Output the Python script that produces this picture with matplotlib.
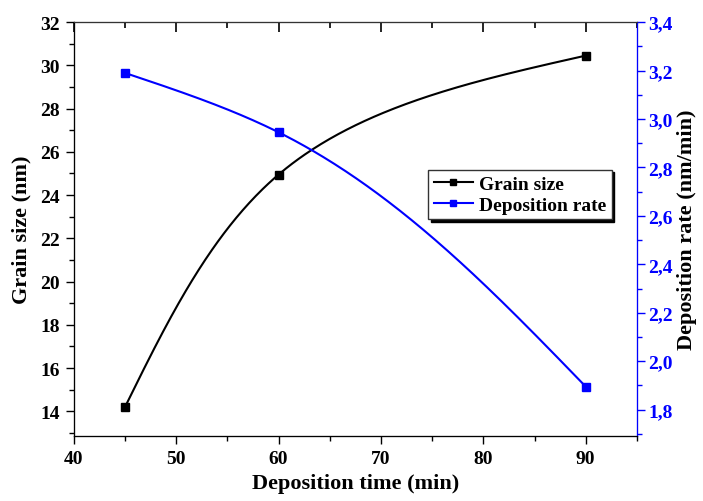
import numpy as np
import matplotlib.pyplot as plt
from matplotlib.ticker import MultipleLocator, FuncFormatter

time_min = [45, 60, 90]
grain_size = [14.2, 24.95, 30.45]
dep_rate = [3.19, 2.945, 1.895]

XLIM = (40, 95)
YLIM_L = (12.85, 32)
YLIM_R = (1.69, 3.4)


def natural_coeffs(t, y):
    h = np.diff(t)
    k = len(t)
    A = np.zeros((k, k))
    b = np.zeros(k)
    A[0, 0] = A[-1, -1] = 1
    for i in range(1, k - 1):
        A[i, i - 1] = h[i - 1]
        A[i, i] = 2 * (h[i - 1] + h[i])
        A[i, i + 1] = h[i]
        b[i] = 6 * ((y[i + 1] - y[i]) / h[i] - (y[i] - y[i - 1]) / h[i - 1])
    return np.linalg.solve(A, b)


def eval_spline(t, y, M, ts):
    idx = np.clip(np.searchsorted(t, ts) - 1, 0, len(t) - 2)
    t0, t1 = t[idx], t[idx + 1]
    hh = t1 - t0
    return (M[idx] * (t1 - ts) ** 3 / (6 * hh) + M[idx + 1] * (ts - t0) ** 3 / (6 * hh)
            + (y[idx] / hh - M[idx] * hh / 6) * (t1 - ts)
            + (y[idx + 1] / hh - M[idx + 1] * hh / 6) * (ts - t0))


def smooth_line(x, y, ylim, w=563, h=414, n=300):
    # parametric spline through the points, worked out in screen-like units
    u = (np.asarray(x, float) - XLIM[0]) / (XLIM[1] - XLIM[0]) * w
    v = (np.asarray(y, float) - ylim[0]) / (ylim[1] - ylim[0]) * h
    t = np.concatenate([[0], np.cumsum(np.hypot(np.diff(u), np.diff(v)))])
    ts = np.linspace(0, t[-1], n)
    us = eval_spline(t, u, natural_coeffs(t, u), ts)
    vs = eval_spline(t, v, natural_coeffs(t, v), ts)
    return (XLIM[0] + us / w * (XLIM[1] - XLIM[0]),
            ylim[0] + vs / h * (ylim[1] - ylim[0]))


plt.rcParams['font.family'] = 'Liberation Serif'
plt.rcParams['font.weight'] = 'bold'

fig = plt.figure(figsize=(7.03, 5.02), dpi=100)
ax = fig.add_axes([0.105, 0.129, 0.801, 0.825])
ax2 = ax.twinx()
ax3 = ax.twiny()

xs, ys = smooth_line(time_min, grain_size, YLIM_L)
ax.plot(xs, ys, color='black', lw=1.5)
ax.plot(time_min, grain_size, 's', color='black', ms=6)
xs, ys = smooth_line(time_min, dep_rate, YLIM_R)
ax2.plot(xs, ys, color='blue', lw=1.5)
ax2.plot(time_min, dep_rate, 's', color='blue', ms=6)

ax.set_xlim(*XLIM)
ax3.set_xlim(*XLIM)
ax.set_ylim(*YLIM_L)
ax2.set_ylim(*YLIM_R)

for a in (ax, ax3):
    a.xaxis.set_major_locator(MultipleLocator(10))
    a.xaxis.set_minor_locator(MultipleLocator(5))
ax.yaxis.set_major_locator(MultipleLocator(2))
ax.yaxis.set_minor_locator(MultipleLocator(1))
ax2.yaxis.set_major_locator(MultipleLocator(0.2))
ax2.yaxis.set_minor_locator(MultipleLocator(0.1))
ax2.yaxis.set_major_formatter(FuncFormatter(lambda v, p: f'{v:.1f}'.replace('.', ',')))

for a in (ax, ax2):
    a.tick_params(which='major', direction='out', length=6, width=1, labelsize=14, pad=4)
    a.tick_params(which='minor', direction='out', length=3.5, width=1)
ax.tick_params(axis='y', which='both', right=False)
ax.tick_params(axis='x', which='both', top=False)
ax2.tick_params(axis='y', which='both', colors='blue')
ax2.tick_params(axis='y', which='major', pad=2)

# inward ticks along the top edge
ax3.tick_params(axis='x', which='major', direction='in', length=7, width=1.2,
                top=True, bottom=False, labeltop=False, labelbottom=False)
ax3.tick_params(axis='x', which='minor', direction='in', length=4, width=1.2,
                top=True, bottom=False)

for a in (ax, ax2, ax3):
    a.spines['top'].set_color('#333333')
for a in (ax, ax2, ax3):
    a.spines['right'].set_color('blue')

ax.set_xlabel('Deposition time (min)', fontsize=16, fontweight='bold', labelpad=4)
ax.set_ylabel('Grain size (nm)', fontsize=16, fontweight='bold', labelpad=6)
ax2.set_ylabel('Deposition rate (nm/min)', fontsize=16, fontweight='bold', labelpad=3)

h1 = plt.Line2D([], [], color='black', marker='s', ms=5, lw=1.5)
h2 = plt.Line2D([], [], color='blue', marker='s', ms=5, lw=1.5)
ax3.legend([h1, h2], ['Grain size', 'Deposition rate'], loc='upper left',
           bbox_to_anchor=(0.629, 0.644), fontsize=14, handlelength=2.0,
           handletextpad=0.3, labelspacing=0.15, borderpad=0.3,
           borderaxespad=0, fancybox=False, edgecolor='#333333', framealpha=1,
           shadow={'color': 'black', 'alpha': 1})

fig.savefig('out.png', dpi=100)
